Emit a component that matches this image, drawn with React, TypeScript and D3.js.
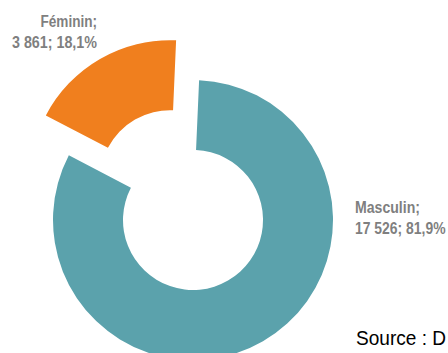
import React, { useRef, useEffect } from 'react';
import * as d3 from 'd3';

const categories = ["Masculin", "Féminin"];
const values = [17526, 3861];
const percents = ["81,9%", "18,1%"];
const valueLabels = ["17 526", "3 861"];
const colors = ["#5ba2ac", "#f07f1e"];
const exploded = [false, true];

const App: React.FC = () => {
  const svgRef = useRef<SVGSVGElement | null>(null);

  useEffect(() => {
    const svg = d3.select(svgRef.current);
    svg.selectAll("*").remove();

    const width = 448;
    const height = 353;
    const cx = 193;
    const cy = 220;
    const outerR = 140;
    const innerR = 70;
    const explode = 46;

    const data = categories.map((c, i) => ({ name: c, value: values[i], i }));

    const pie = d3.pie<{ name: string; value: number; i: number }>()
      .value(d => d.value)
      .sort(null)
      .startAngle((2.5 * Math.PI) / 180)
      .endAngle((2.5 * Math.PI) / 180 + 2 * Math.PI);

    const arc = d3.arc<d3.PieArcDatum<{ name: string; value: number; i: number }>>()
      .innerRadius(innerR)
      .outerRadius(outerR);

    svg.attr("width", width).attr("height", height);

    const g = svg.append("g").attr("transform", `translate(${cx},${cy})`);

    g.selectAll("path")
      .data(pie(data))
      .join("path")
      .attr("d", arc)
      .attr("fill", d => colors[d.data.i])
      .attr("transform", d => {
        if (!exploded[d.data.i]) return null;
        const mid = (d.startAngle + d.endAngle) / 2;
        return `translate(${Math.sin(mid) * explode},${-Math.cos(mid) * explode})`;
      });

    // narrow look: squeeze the glyphs to the widths seen in the picture
    const font = "'Liberation Sans', Arial, sans-serif";

    const labels = [
      { x: 355, y: 213, anchor: "start", w1: 65, w2: 90.5 },
      { x: 97, y: 27, anchor: "end", w1: 56.5, w2: 85 },
    ];
    labels.forEach((l, i) => {
      const line = (y: number, txt: string, w: number) =>
        svg.append("text")
          .attr("x", l.x)
          .attr("y", y)
          .attr("text-anchor", l.anchor)
          .attr("font-family", font)
          .attr("font-weight", "bold")
          .attr("font-size", 16)
          .attr("fill", "#7f7f7f")
          .attr("textLength", w)
          .attr("lengthAdjust", "spacingAndGlyphs")
          .text(txt);
      line(l.y, `${categories[i]};`, l.w1);
      line(l.y + 20.5, `${valueLabels[i]}; ${percents[i]}`, l.w2);
    });

    svg.append("text")
      .attr("x", 356)
      .attr("y", 345)
      .attr("font-family", font)
      .attr("font-size", 21)
      .attr("fill", "#000")
      .attr("textLength", 90)
      .attr("lengthAdjust", "spacingAndGlyphs")
      .text("Source : D");
  }, []);

  return (
    <svg ref={svgRef} style={{ position: 'absolute', left: 0, top: 0, display: 'block' }}></svg>
  );
};

export default App;
